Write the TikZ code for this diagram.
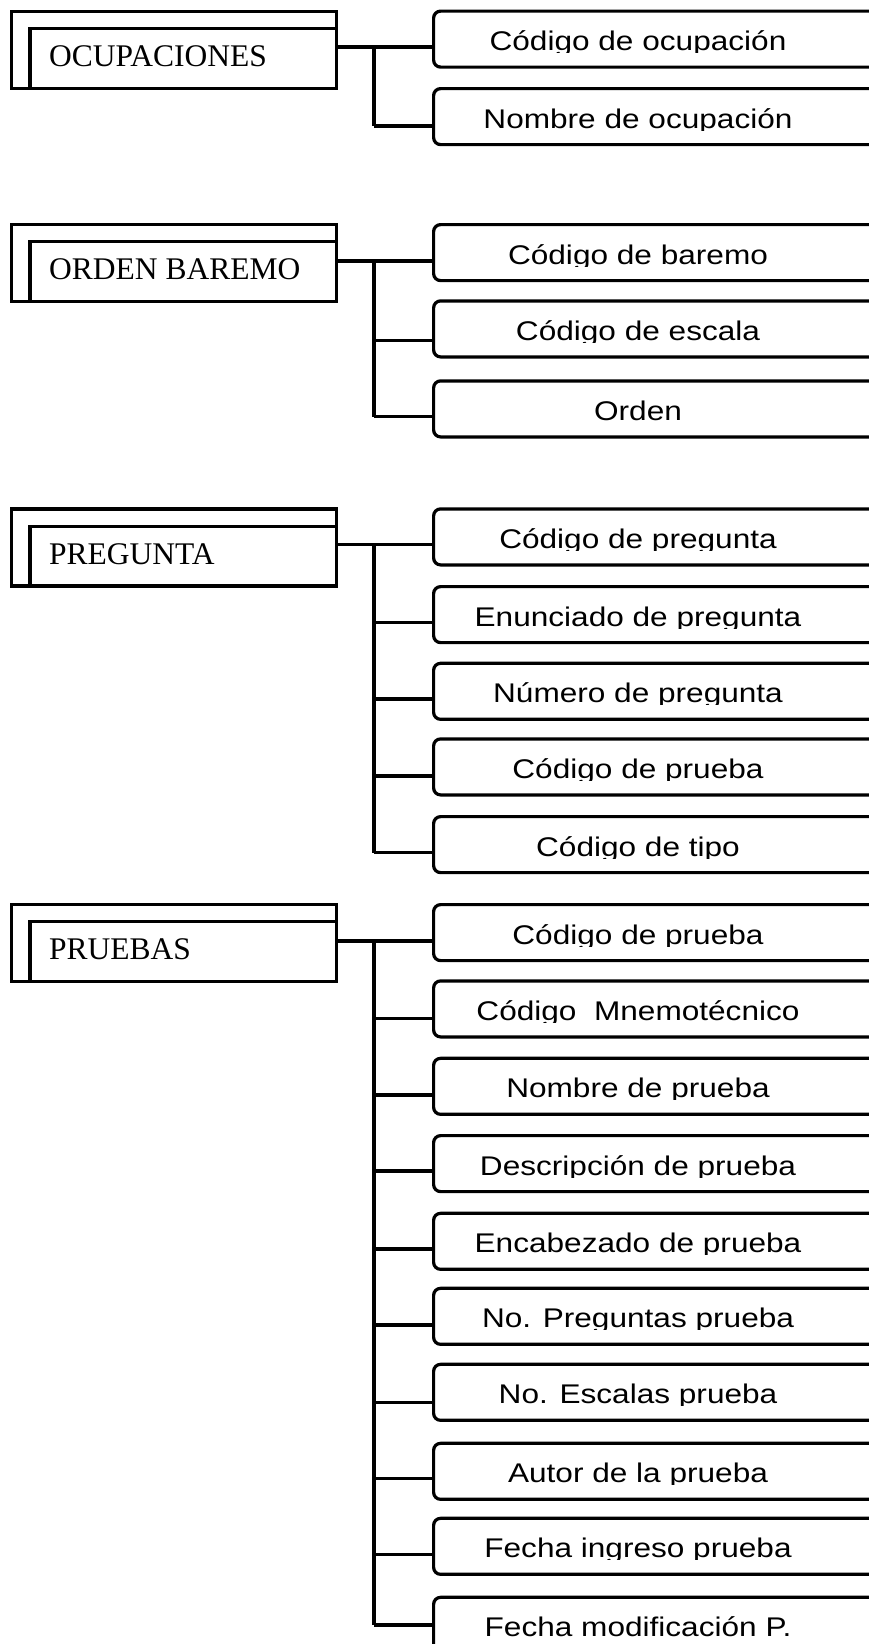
\documentclass[tikz,border=0pt]{standalone}
\usepackage{fontspec}
\setmainfont{Liberation Serif}
\newfontfamily\arx[FakeStretch=1.17]{Liberation Sans}
\tikzset{
  ln/.style={line width=3.2pt},
  pbox/.style={draw, ln, minimum width=325pt, minimum height=77pt, inner sep=0pt, anchor=north west},
  cbox/.style={draw, ln, rounded corners=7pt, minimum width=470pt, minimum height=56pt, inner sep=0pt, anchor=north west},
  ptext/.style={inner sep=0pt, anchor=base west, font=\fontsize{31.5pt}{36pt}\selectfont},
  ctext/.style={inner sep=0pt, anchor=base, font=\arx\fontsize{27pt}{32pt}\selectfont},
}
% #1 name, #2 top, #3 branch y, #4 text
\newcommand\mkchild[4]{%
  \node[cbox] (#1) at (432,#2) {};
  \begin{scope}
    \clip (420,#2) rectangle (869,#2+43);
    \node[ctext] (#1t) at (638,#2+41) {#4};
  \end{scope}
  \coordinate (#1b) at (374,#3);
  \draw[ln] (#1b) -- (#1b -| #1.west);
}
% #1 name, #2 top, #3 branch y, #4 text
\newcommand\mkparent[4]{%
  \node[pbox] (#1) at (10,#2) {};
  \draw[ln] ([xshift=20pt]#1.south west) |- ([yshift=-19pt]#1.north east);
  \node[ptext] (#1t) at (49,#2+57) {#4};
  \coordinate (#1b) at (335,#3);
}
\begin{document}
\begin{tikzpicture}[x=1pt,y=-1pt]
\useasboundingbox (0,0) rectangle (869,1644);
\clip (0,0) rectangle (869,1644);
% Group 1
\mkparent{pa}{9.5}{47}{OCUPACIONES}
\mkchild{a1}{9.5}{47}{Código de ocupación}
\mkchild{a2}{87}{126}{Nombre de ocupación}
\draw[ln] (pa.east |- pab) -- (a1b);
\draw[ln] (a1b) -- (a2b);
% Group 2
\mkparent{pb}{222.7}{261}{ORDEN BAREMO}
\mkchild{b1}{223}{261}{Código de baremo}
\mkchild{b2}{299.3}{340.7}{Código de escala}
\mkchild{b3}{379.3}{416.7}{Orden}
\draw[ln] (pb.east |- pbb) -- (b1b);
\draw[ln] (b1b) -- (b3b);
% Group 3
\mkparent{pc}{507.3}{544.3}{PREGUNTA}
\mkchild{c1}{507.3}{544.3}{Código de pregunta}
\mkchild{c2}{585}{622.7}{Enunciado de pregunta}
\mkchild{c3}{661.7}{699}{Número de pregunta}
\mkchild{c4}{737.3}{776}{Código de prueba}
\mkchild{c5}{815}{852.7}{Código de tipo}
\draw[ln] (pc.east |- pcb) -- (c1b);
\draw[ln] (c1b) -- (c5b);
% Group 4
\mkparent{pd}{902.7}{941}{PRUEBAS}
\mkchild{d1}{903}{941}{Código de prueba}
\mkchild{d2}{979.3}{1018.3}{Código\ \ Mnemotécnico}
\mkchild{d3}{1056.7}{1095}{Nombre de prueba}
\mkchild{d4}{1134}{1171}{Descripción de prueba}
\mkchild{d5}{1211.7}{1249}{Encabezado de prueba}
\mkchild{d6}{1286.7}{1325}{No. Preguntas prueba}
\mkchild{d7}{1362.7}{1402.7}{No. Escalas prueba}
\mkchild{d8}{1441.7}{1478.7}{Autor de la prueba}
\mkchild{d9}{1516.7}{1554.7}{Fecha ingreso prueba}
\mkchild{d10}{1595.7}{1625}{Fecha modificación P.}
\draw[ln] (pd.east |- pdb) -- (d1b);
\draw[ln] (d1b) -- (d10b);
\end{tikzpicture}
\end{document}
